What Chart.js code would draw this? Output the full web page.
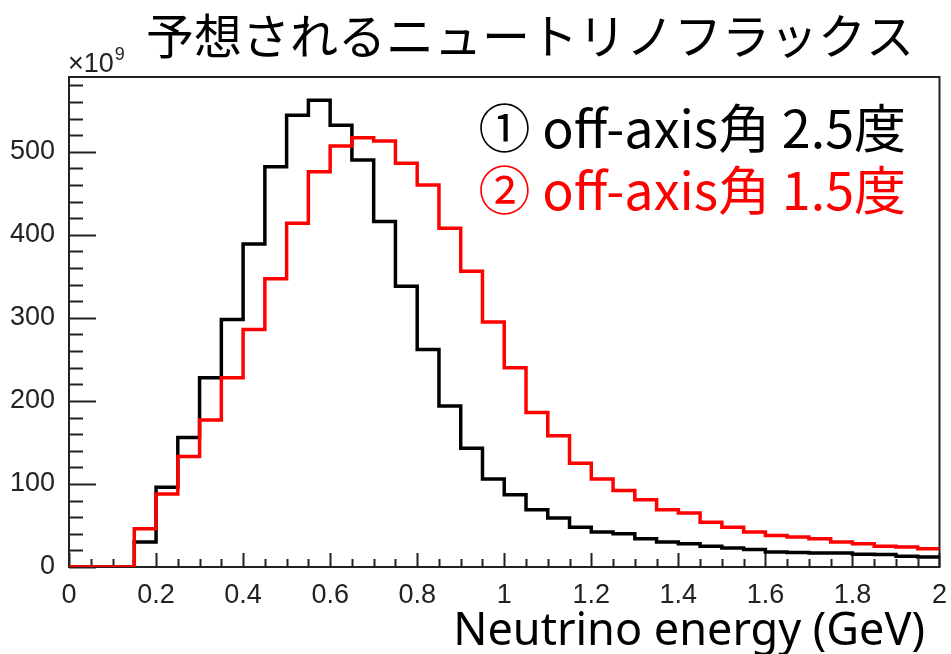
<!DOCTYPE html>
<html>
<head>
<meta charset="utf-8">
<script src="https://cdn.jsdelivr.net/npm/chart.js@4"></script>
<style>
  body { margin: 0; background: #fff; }
  canvas { display: block; }
</style>
</head>
<body>
<canvas id="fluxChart" width="951" height="654"></canvas>
<script>
// Bin edges (GeV) of the energy histogram
const binEdges = [
  0, 0.05, 0.1, 0.15, 0.2, 0.25, 0.3, 0.35, 0.4, 0.45,
  0.5, 0.55, 0.6, 0.65, 0.7, 0.75, 0.8, 0.85, 0.9, 0.95,
  1, 1.05, 1.1, 1.15, 1.2, 1.25, 1.3, 1.35, 1.4, 1.45,
  1.5, 1.55, 1.6, 1.65, 1.7, 1.75, 1.8, 1.85, 1.9, 1.95, 2
];

// Flux per bin, x10^9
const fluxAngle25 = [
  0, 0, 0, 30, 96, 156, 228, 298, 389, 482,
  544, 562, 532, 490, 416, 338, 262, 194, 143, 106,
  87, 69, 59, 48, 42, 40, 34, 30, 28, 25,
  23, 21, 18, 17.5, 17, 17, 15.5, 15, 13, 12
];
const fluxAngle15 = [
  0, 0, 0, 46, 88, 133, 177, 228, 286, 347,
  414, 476, 507, 517, 513, 486, 460, 408, 356, 295,
  240, 186, 158, 125, 106, 92, 81, 69, 65, 54,
  48, 42, 38, 36, 34, 30, 28, 25, 24, 22
];

const xTickValues = [0, 0.2, 0.4, 0.6, 0.8, 1, 1.2, 1.4, 1.6, 1.8, 2];
const xTickLabels = ["0", "0.2", "0.4", "0.6", "0.8", "1", "1.2", "1.4", "1.6", "1.8", "2"];
const yTickValues = [0, 100, 200, 300, 400, 500];
const yTickLabels = ["0", "100", "200", "300", "400", "500"];

const titleText = "予想されるニュートリノフラックス";
const legendLines = [
  { text: "① off-axis角 2.5度", color: "#000000" },
  { text: "② off-axis角 1.5度", color: "#ff0000" },
];
const xAxisTitle = "Neutrino energy (GeV)";

// histogram -> step points, each value held from its lower edge;
// the last bin is closed at the upper edge
function toSteps(values) {
  const pts = values.map((v, i) => ({ x: binEdges[i], y: v }));
  pts.push({ x: binEdges[values.length], y: values[values.length - 1] });
  return pts;
}

// frame + inward ticks, ROOT style
const frameTicks = {
  id: "frameTicks",
  beforeDatasetsDraw(chart) {
    const { ctx, chartArea, scales } = chart;
    const x = scales.x, y = scales.y;
    ctx.save();
    ctx.strokeStyle = "#222";
    ctx.lineWidth = 2;
    ctx.strokeRect(chartArea.left, chartArea.top, chartArea.right - chartArea.left, chartArea.bottom - chartArea.top);

    ctx.beginPath();
    for (let v = 0; v <= 580; v += 20) {
      const py = Math.round(y.getPixelForValue(v)) + 0.5;
      const len = v % 100 === 0 ? 27 : 14;
      ctx.moveTo(chartArea.left, py);
      ctx.lineTo(chartArea.left + len, py);
    }
    for (let i = 0; i <= 40; i++) {
      const px = Math.round(x.getPixelForValue(binEdges[i])) + 0.5;
      const len = i % 4 === 0 ? 14 : 8;
      ctx.moveTo(px, chartArea.bottom);
      ctx.lineTo(px, chartArea.bottom - len);
    }
    ctx.stroke();
    ctx.restore();
  },
  afterDraw(chart) {
    const { ctx, chartArea } = chart;
    ctx.save();
    ctx.fillStyle = "#000";
    ctx.textBaseline = "middle";

    ctx.font = '48px "Noto Sans CJK JP"';
    ctx.textAlign = "center";
    ctx.fillText(titleText, 530, 36);

    ctx.font = '52px "Noto Sans CJK JP"';
    ctx.textAlign = "right";
    legendLines.forEach((line, i) => {
      ctx.fillStyle = line.color;
      ctx.fillText(line.text, 906, 128 + i * 62);
    });

    ctx.fillStyle = "#000";
    ctx.font = '45px "Noto Sans"';
    ctx.textBaseline = "alphabetic";
    ctx.fillText(xAxisTitle, 925, 645);

    // exponent of the y axis
    ctx.fillStyle = "#222";
    ctx.textAlign = "left";
    ctx.font = '27px "Liberation Sans"';
    ctx.fillText("×10", chartArea.left - 1, 72);
    const w = ctx.measureText("×10").width;
    ctx.font = '18px "Liberation Sans"';
    ctx.fillText("9", chartArea.left - 1 + w + 1, 60);
    ctx.restore();
  },
};

const tickFont = { family: "Liberation Sans", size: 27 };

const ctx = document.getElementById("fluxChart").getContext("2d");
const fluxChart = new Chart(ctx, {
  type: "line",
  data: {
    datasets: [
      {
        label: "off-axis 1.5",
        data: toSteps(fluxAngle15),
        borderColor: "#ff0000",
        borderWidth: 3.5,
        stepped: "before",
        pointRadius: 0,
        fill: false,
        order: 0,
      },
      {
        label: "off-axis 2.5",
        data: toSteps(fluxAngle25),
        borderColor: "#000000",
        borderWidth: 3.5,
        stepped: "before",
        pointRadius: 0,
        fill: false,
        order: 1,
      },
    ],
  },
  options: {
    responsive: false,
    animation: false,
    layout: { padding: { top: 77, right: 11, left: 0, bottom: 0 } },
    plugins: {
      legend: { display: false },
      tooltip: { enabled: false },
    },
    scales: {
      x: {
        type: "linear",
        min: 0,
        max: 2,
        grid: { display: false },
        border: { display: false },
        afterBuildTicks: (scale) => {
          scale.ticks = xTickValues.map((v) => ({ value: v }));
        },
        afterFit: (scale) => {
          scale.height = 87;
        },
        ticks: {
          font: tickFont,
          color: "#222",
          padding: 4,
          maxRotation: 0,
          autoSkip: false,
          callback: (value, index) => xTickLabels[index],
        },
      },
      y: {
        type: "linear",
        min: 0,
        max: 590,
        grid: { display: false },
        border: { display: false },
        afterBuildTicks: (scale) => {
          scale.ticks = yTickValues.map((v) => ({ value: v }));
        },
        afterFit: (scale) => {
          scale.width = 69;
        },
        ticks: {
          font: tickFont,
          color: "#222",
          padding: 6,
          callback: (value, index) => yTickLabels[index],
        },
      },
    },
  },
  plugins: [frameTicks],
});
</script>
</body>
</html>
